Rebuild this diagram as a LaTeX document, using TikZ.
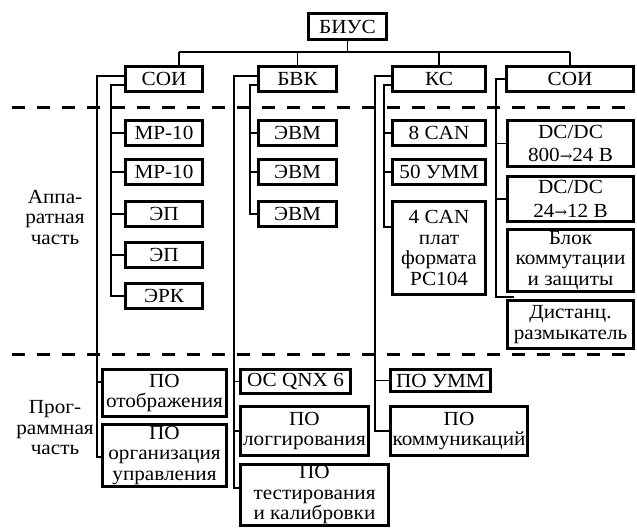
\documentclass[tikz,border=0pt]{standalone}
\usepackage{fontspec}
\setmainfont[FakeStretch=1.06]{Liberation Serif}
\newfontfamily\arrfont{DejaVu Serif}
\newcommand{\rarr}{{\arrfont\fontsize{15}{15}\selectfont →}}
\usetikzlibrary{calc}
\begin{document}
\begin{tikzpicture}[x=1pt,y=-1pt,
  bx/.style={draw, line width=3pt, align=center, inner sep=0pt, font=\fontsize{20}{20.5}\selectfont},
  ln/.style={line width=1.6pt},
  dl/.style={line width=3pt, dash pattern=on 13pt off 12pt},
  lbl/.style={align=center, font=\fontsize{20}{20.5}\selectfont}]
\useasboundingbox (0,0) rectangle (637,530);
% top
\node[bx, minimum width=78pt, minimum height=26pt] (biys) at (347.5,26.5) {БИУС};
\node[bx, minimum width=77pt, minimum height=25pt] (soi1) at (164,79) {СОИ};
\node[bx, minimum width=78pt, minimum height=25pt] (bvk) at (297.5,79) {БВК};
\node[bx, minimum width=93pt, minimum height=25pt] (ks) at (439,79) {КС};
\node[bx, minimum width=127pt, minimum height=25pt] (soi2) at (570,79) {СОИ};
% hardware
\node[bx, minimum width=77pt, minimum height=25pt] (mp1) at (164,133) {МР-10};
\node[bx, minimum width=77pt, minimum height=25pt] (mp2) at (164,172) {МР-10};
\node[bx, minimum width=77pt, minimum height=25pt] (ep1) at (164,214) {ЭП};
\node[bx, minimum width=77pt, minimum height=25pt] (ep2) at (164,255) {ЭП};
\node[bx, minimum width=77pt, minimum height=25pt] (erk) at (164,296) {ЭРК};
\node[bx, minimum width=78pt, minimum height=25pt] (evm1) at (297.5,133) {ЭВМ};
\node[bx, minimum width=78pt, minimum height=25pt] (evm2) at (297.5,172) {ЭВМ};
\node[bx, minimum width=78pt, minimum height=25pt] (evm3) at (297.5,214) {ЭВМ};
\node[bx, minimum width=93pt, minimum height=25pt] (can8) at (439,133) {8 CAN};
\node[bx, minimum width=93pt, minimum height=25pt] (umm50) at (439,172) {50 УММ};
\node[bx, minimum width=93pt, minimum height=93pt] (can4) at (439,248) {4 CAN\\плат\\формата\\РС104};
\node[bx, minimum width=126pt, minimum height=46pt] (dc1) at (570.5,143.5) {DC/DC\\[3pt]800\rarr24 В};
\node[bx, minimum width=126pt, minimum height=45pt] (dc2) at (570.5,199) {DC/DC\\[3pt]24\rarr12 В};
\node[bx, minimum width=126pt, minimum height=62pt] (blok) at (570.5,260.5) {Блок\\коммутации\\и защиты};
\node[bx, minimum width=126pt, minimum height=48pt] (dist) at (570.5,324.5) {Дистанц.\\размыкатель};
% software
\node[bx, minimum width=124pt, minimum height=47pt] (pootobr) at (164.5,393) {ПО\\отображения};
\node[bx, minimum width=124pt, minimum height=62pt] (poorg) at (164.5,455.5) {ПО\\организация\\управления};
\node[bx, minimum width=110pt, minimum height=24pt] (qnx) at (295.5,381.5) {ОС QNX 6};
\node[bx, minimum width=128pt, minimum height=49pt] (polog) at (304.5,431) {ПО\\логгирования};
\node[bx, minimum width=148pt, minimum height=61pt] (potest) at (314.5,495) {ПО\\тестирования\\и калибровки};
\node[bx, minimum width=100pt, minimum height=22pt] (poumm) at (440.5,380.5) {ПО УММ};
\node[bx, minimum width=137pt, minimum height=49pt] (pocomm) at (459,431) {ПО\\коммуникаций};
% labels
\node[lbl] (hw) at (55,217) {Аппа-\\ратная\\часть};
\node[lbl] (sw) at (55,428) {Прог-\\раммная\\часть};
% dashed separators
\coordinate (d1l) at (12,107); \coordinate (d1r) at (637,107);
\coordinate (d2l) at (12,354); \coordinate (d2r) at (637,354);
\draw[dl] (d1l) -- (d1r);
\draw[dl] (d2l) -- (d2r);
% bus
\coordinate (busL) at (179,52);
\coordinate (busR) at (570,52);
\draw[ln] (busL) -- (busR);
\draw[ln] (biys.south) -- (biys.south |- busL);
\draw[ln] (busL) -- (busL |- soi1.north);
\draw[ln] (bvk.north) -- (bvk.north |- busL);
\draw[ln] (ks.north) -- (ks.north |- busL);
\draw[ln] (soi2.north) -- (soi2.north |- busL);
% SOI1
\draw[ln] (soi1.west |- 0,76) -| (97,457) -- (poorg.west |- 0,457);
\draw[ln] (97,382) -- (pootobr.west |- 0,382);
\draw[ln] (soi1.west |- 0,85) -| (111,296) -- (erk.west);
\foreach \n in {mp1,mp2,ep1,ep2} \draw[ln] (\n.west -| 111,0) -- (\n.west);
% BVK
\draw[ln] (bvk.west |- 0,76) -| (234,488) -- (potest.west |- 0,488);
\draw[ln] (qnx.west -| 234,0) -- (qnx.west);
\draw[ln] (polog.west -| 234,0) -- (polog.west);
\draw[ln] (bvk.west |- 0,85) -| (250,214) -- (evm3.west);
\foreach \n in {evm1,evm2} \draw[ln] (\n.west -| 250,0) -- (\n.west);
% KS
\draw[ln] (ks.west |- 0,76) -| (375,431) -- (pocomm.west);
\draw[ln] (poumm.west -| 375,0) -- (poumm.west);
\draw[ln] (ks.west |- 0,85) -| (384,227) -- (can4.west |- 0,227);
\foreach \n in {can8,umm50} \draw[ln] (\n.west -| 384,0) -- (\n.west);
% SOI2
\coordinate (bend) at (514,297);
\draw[ln] (soi2.west) -| (496,297) -- (bend);
\foreach \n in {dc1,dc2} \draw[ln] (\n.west -| 496,0) -- (\n.west);
\end{tikzpicture}
\end{document}
